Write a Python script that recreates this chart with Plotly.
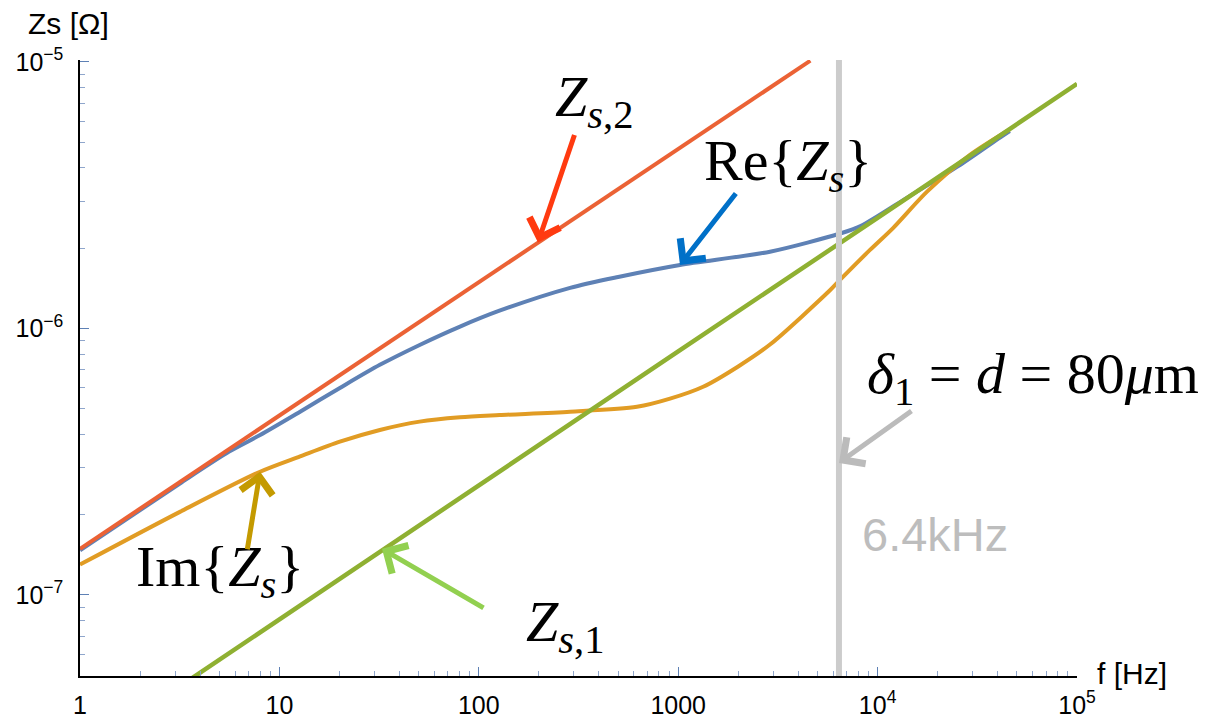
import numpy as np
import plotly.graph_objects as go

# ---------------- data ----------------
f_zs2 = [1, 10, 100, 1000, 4600]
zs2 = [1.49e-7, 4.71e-7, 1.49e-6, 4.71e-6, 1.01e-5]

f_zs1 = [3, 10, 100, 1000, 10000, 100000]
zs1 = [4.42e-8, 8.1e-8, 2.6e-7, 8.2e-7, 2.6e-6, 8.27e-6]

f_re = [1, 3.17, 5.6, 8.0, 12.7, 20.1, 31.9, 50.5, 80.5, 127, 287, 500, 1021, 2886,
        6476, 8210, 14400, 25500, 41100, 46000]
z_re = [1.47e-7, 2.62e-7, 3.45e-7, 3.98e-7, 4.87e-7, 5.98e-7, 7.3e-7, 8.67e-7, 1.016e-6,
        1.165e-6, 1.42e-6, 1.56e-6, 1.73e-6, 1.94e-6, 2.27e-6, 2.42e-6, 3.13e-6, 4.07e-6,
        5.2e-6, 5.5e-6]

f_im = [1, 3.17, 8.0, 12.7, 20.1, 31.9, 50.5, 80.5, 127, 287, 621, 910, 1334, 2000, 2886,
        5770, 6476, 9160, 11950, 17700, 29060, 46000]
z_im = [1.30e-7, 2.05e-7, 2.9e-7, 3.31e-7, 3.76e-7, 4.16e-7, 4.47e-7, 4.64e-7, 4.73e-7,
        4.87e-7, 5.08e-7, 5.45e-7, 6.04e-7, 7.2e-7, 8.7e-7, 1.39e-6, 1.52e-6, 1.97e-6,
        2.38e-6, 3.26e-6, 4.48e-6, 5.58e-6]

f_delta = [6400, 6400]
z_delta = [1e-8, 1e-4]

x_tickvals = [1, 10, 100, 1000, 1e4, 1e5]
x_ticktext = ["1", "10", "100", "1000", "10<sup>4</sup>", "10<sup>5</sup>"]
y_tickvals = [1e-7, 1e-6, 1e-5]
y_ticktext = ["10<sup>\u22127</sup>", "10<sup>\u22126</sup>", "10<sup>\u22125</sup>"]

# ---------------- figure ----------------
# the page body has an 8px margin, so the figure is 8px smaller and offset
OFF = 8
W, H = 1222 - OFF, 718 - OFF
L, R, T, B = 80 - OFF, 145, 60 - OFF, 42

C_RED = "#EB6235"
C_BLUE = "#5E81B5"
C_ORANGE = "#E19C24"
C_GREEN = "#8FB032"

fig = go.Figure()
fig.add_trace(go.Scatter(x=f_re, y=z_re, mode="lines", line=dict(color=C_BLUE, width=4, shape="spline", smoothing=0.8), showlegend=False))
fig.add_trace(go.Scatter(x=f_zs2, y=zs2, mode="lines", line=dict(color=C_RED, width=4), showlegend=False))
fig.add_trace(go.Scatter(x=f_im, y=z_im, mode="lines", line=dict(color=C_ORANGE, width=4, shape="spline", smoothing=0.8), showlegend=False))
fig.add_trace(go.Scatter(x=f_zs1, y=zs1, mode="lines", line=dict(color=C_GREEN, width=4.5), showlegend=False))
fig.add_trace(go.Scatter(x=f_delta, y=z_delta, mode="lines", line=dict(color="#CCCCCC", width=6), showlegend=False))

def px(x, y):
    # screen pixel -> paper coordinates
    x -= OFF
    y -= OFF
    return (x - L) / (W - L - R), (H - B - y) / (H - T - B)

def label(text, x, y, size=58, color="black", family="Liberation Serif"):
    xp, yp = px(x, y)
    fig.add_annotation(x=xp, y=yp, xref="paper", yref="paper", text=text, showarrow=False,
                       font=dict(family=family, size=size, color=color), xanchor="center", yanchor="middle")

def arrow(fx, fz, ax, ay, color):
    fig.add_annotation(x=np.log10(fx), y=np.log10(fz), xref="x", yref="y", ax=ax, ay=ay,
                       axref="pixel", ayref="pixel", showarrow=True, arrowhead=4, arrowsize=1.25,
                       arrowwidth=5, arrowcolor=color, standoff=0, text="")

label("<i>Z</i><sub><i>s</i>,2</sub>", 594, 100)
label("Re{<i>Z</i><sub><i>s</i></sub>}", 788, 165)
label("Im{<i>Z</i><sub><i>s</i></sub>}", 220, 570)
label("<i>Z</i><sub><i>s</i>,1</sub>", 565, 625)
label("<i>\u03b4</i><sub>1</sub> = <i>d</i> = 80<i>\u03bc</i>m", 1033, 378)
label("6.4kHz", 935, 534, size=47, color="#BDBDBD", family="Liberation Sans")
label("Zs [\u03a9]", 68, 24, size=30, family="Liberation Sans")
label("f [Hz]", 1132, 673, size=30, family="Liberation Sans")

arrow(198, 2.1e-6, 37, -109, "#FF3A10")
arrow(1021, 1.73e-6, 57, -73, "#0070C8")
arrow(8.0, 2.9e-7, -13, 79, "#C49A00")
arrow(32.7, 1.49e-7, 103, 60, "#92D050")
arrow(6400, 3.13e-7, 74, -53, "#BBBBBB")

axis_common = dict(
    type="log", showgrid=False, zeroline=False, showline=True, linecolor="black", linewidth=1.5,
    ticks="inside", ticklen=9, tickwidth=1, tickcolor="#5E81B5", automargin=False,
    minor=dict(ticks="inside", ticklen=5, tickwidth=1, tickcolor="#8FA6CC", dtick="D1", showgrid=False),
    tickfont=dict(family="Liberation Sans", size=25, color="black"),
)
fig.update_xaxes(range=[0, 5], tickvals=x_tickvals, ticktext=x_ticktext, ticklabelstandoff=6, **axis_common)
fig.update_yaxes(range=[-7.304, -4.993], tickvals=y_tickvals, ticktext=y_ticktext, ticklabelstandoff=10, **axis_common)

fig.update_layout(
    width=W, height=H, margin=dict(l=L, r=R, t=T, b=B, autoexpand=False),
    plot_bgcolor="white", paper_bgcolor="white",
)
fig.write_html("out.html")
